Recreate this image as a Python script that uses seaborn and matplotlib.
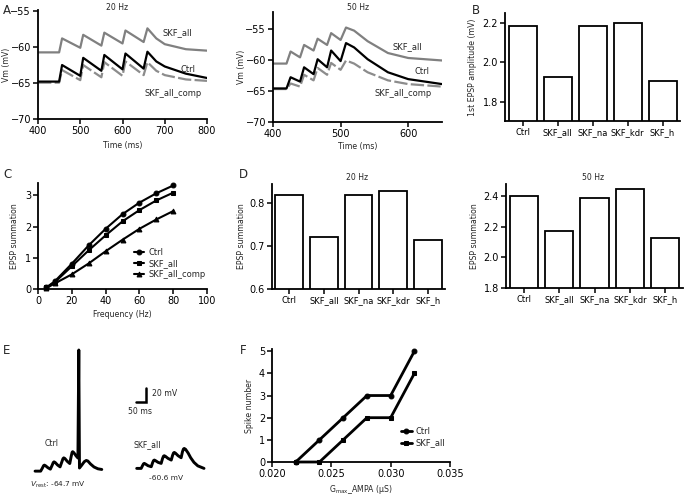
import matplotlib
matplotlib.use("Agg")
import matplotlib.pyplot as plt
import seaborn as sns

# ---------------- data ----------------
# Panel A: membrane potential traces (ms, mV)
t20 = [400, 450, 457, 500, 507, 550, 557, 600, 607, 650, 659, 680, 700, 750, 800]
skf20 = [-60.74, -60.74, -58.8, -60.1, -58.3, -59.8, -58.0, -59.5, -57.7, -59.3, -57.4, -58.8, -59.6, -60.3, -60.5]
ctrl20 = [-64.8, -64.8, -62.5, -64.0, -61.5, -63.3, -61.1, -63.1, -60.9, -63.0, -60.65, -62.0, -62.7, -63.7, -64.3]
comp20 = [-64.95, -64.95, -63.2, -64.6, -62.5, -64.2, -62.1, -64.0, -62.0, -63.9, -62.1, -63.3, -63.9, -64.5, -64.7]

t50 = [400, 420, 426, 440, 446, 460, 466, 480, 486, 500, 508, 520, 540, 570, 600, 650]
skf50 = [-60.6, -60.6, -58.66, -59.6, -57.6, -58.5, -56.6, -57.6, -55.7, -56.8, -54.8, -55.3, -57.0, -58.9, -59.7, -60.1]
ctrl50 = [-64.6, -64.6, -62.8, -63.5, -61.2, -62.3, -59.9, -61.2, -58.5, -60.2, -57.3, -58.0, -59.9, -62.0, -63.1, -63.9]
comp50 = [-64.7, -64.7, -63.8, -64.3, -62.4, -63.3, -61.3, -62.4, -60.5, -61.6, -60.1, -60.6, -62.0, -63.3, -63.9, -64.3]

# Panels B and D: bar values
bar_cats = ["Ctrl", "SKF_all", "SKF_na", "SKF_kdr", "SKF_h"]
epsp_first = [2.185, 1.925, 2.185, 2.200, 1.905]
sum_20hz = [0.820, 0.722, 0.820, 0.828, 0.715]
sum_50hz = [2.400, 2.170, 2.390, 2.445, 2.125]

# Panel C: EPSP summation vs frequency
freq = [5, 10, 20, 30, 40, 50, 60, 70, 80]
sumC_ctrl = [0.05, 0.25, 0.81, 1.40, 1.93, 2.40, 2.77, 3.07, 3.32]
sumC_skf = [0.05, 0.22, 0.73, 1.24, 1.72, 2.17, 2.53, 2.84, 3.09]
sumC_comp = [0.03, 0.18, 0.47, 0.82, 1.21, 1.58, 1.93, 2.23, 2.50]

# Panel E: example traces (ms, mV)
tE_ctrl = [26, 55, 64, 70, 74, 80, 92,
           105, 114, 120, 124, 130, 142,
           155, 164, 170, 174, 180, 192,
           205, 212, 217, 220, 226, 238,
           247, 251.5, 255, 266, 280, 290, 298, 312, 330, 350, 370]
vE_ctrl = [-64.7, -64.7, -60.0, -56.5, -55.7, -56.6, -59.5,
           -61.7, -56.0, -51.8, -50.8, -51.8, -55.5,
           -58.3, -51.0, -46.0, -44.8, -45.8, -50.0,
           -53.3, -43.0, -36.5, -35.5, -37.0, -42.0,
           -45.0, 117.0, -60.0, -56.0, -50.5, -48.7, -49.5, -54.0, -58.5, -61.2, -62.2]
tE_skf = [550, 573, 580, 585, 589, 595, 608,
          625, 632, 637, 641, 647, 660,
          676, 683, 688, 692, 698, 711,
          728, 735, 740, 744, 750, 763,
          779, 786, 791, 795, 802, 815, 828, 845, 865, 897]
vE_skf = [-60.6, -60.6, -56.5, -53.8, -53.1, -54.0, -56.5,
          -58.1, -52.0, -48.8, -48.1, -49.0, -51.5,
          -53.1, -46.0, -42.3, -41.6, -42.5, -45.5,
          -48.1, -41.0, -37.3, -36.7, -37.8, -41.5,
          -44.6, -35.5, -31.5, -30.7, -32.0, -37.5, -44.5, -51.5, -56.8, -60.6]

# Panel F: spike number vs Gmax
gmax = [0.022, 0.024, 0.026, 0.028, 0.030, 0.032]
spk_ctrl = [0, 1, 2, 3, 3, 5]
spk_skf = [0, 0, 1, 2, 2, 4]

# ---------------- style ----------------
sns.set_theme(style="ticks")
plt.rcParams["font.family"] = ["DejaVu Sans"]
plt.rcParams["axes.linewidth"] = 1.3

W, H = 685, 496
fig = plt.figure(figsize=(W / 100, H / 100), dpi=100)

LAB = 5.6   # axis-label font size
ANN = 6.0   # annotation font size


def add_ax(l, t, r, b):
    return fig.add_axes([l / W, 1 - b / H, (r - l) / W, (b - t) / H])


def ftext(x, y, s, **kw):
    kw.setdefault("fontsize", ANN)
    kw.setdefault("ha", "center")
    kw.setdefault("va", "center")
    fig.text(x / W, 1 - y / H, s, **kw)


def style(ax):
    sns.despine(ax=ax)
    for s in ["left", "bottom"]:
        ax.spines[s].set_linewidth(1.3)
        ax.spines[s].set_color("black")
    ax.tick_params(width=1.1, length=3.5, labelsize=7, pad=1.5, colors="black")
    ax.set_facecolor("white")


def labels(ax, xlabel, ylabel, ylab_x_px, xlab_top_px=None):
    """Place axis labels at pixel positions of the reference."""
    pos = ax.get_position()
    l_px = pos.x0 * W
    w_px = pos.width * W
    b_px = (1 - pos.y0) * H
    h_px = pos.height * H
    if ylabel:
        ax.set_ylabel(ylabel, fontsize=LAB)
        ax.yaxis.set_label_coords((ylab_x_px + 4 - l_px) / w_px, 0.5)
    if xlabel:
        ax.set_xlabel(xlabel, fontsize=LAB)
        ax.xaxis.set_label_coords(0.5, -(xlab_top_px - b_px) / h_px)


GRAY = "#808080"
GRAY2 = "#8c8c8c"

# ---------------- Panel A ----------------
axA1 = add_ax(38, 10, 207, 119)
sns.lineplot(x=t20, y=skf20, ax=axA1, color=GRAY, lw=1.6, estimator=None)
sns.lineplot(x=t20, y=comp20, ax=axA1, color=GRAY2, lw=1.6, estimator=None, linestyle=(0, (6, 1.5)))
sns.lineplot(x=t20, y=ctrl20, ax=axA1, color="black", lw=1.6, estimator=None)
axA1.set_xlim(400, 800)
axA1.set_ylim(-70, -54.85)
axA1.set_xticks([400, 500, 600, 700, 800])
axA1.set_yticks([-70, -65, -60, -55])
style(axA1)
labels(axA1, "Time (ms)", "Vm (mV)", 7, 141)
ftext(117, 8, "20 Hz", fontsize=5.6)
ftext(177, 33, "SKF_all")
ftext(188, 69, "Ctrl")
ftext(173, 94, "SKF_all_comp")

axA2 = add_ax(273, 12, 442, 122)
sns.lineplot(x=t50, y=skf50, ax=axA2, color=GRAY, lw=1.6, estimator=None)
sns.lineplot(x=t50, y=comp50, ax=axA2, color=GRAY2, lw=1.6, estimator=None, linestyle=(0, (6, 1.5)))
sns.lineplot(x=t50, y=ctrl50, ax=axA2, color="black", lw=1.6, estimator=None)
axA2.set_xlim(400, 650)
axA2.set_ylim(-70, -52.3)
axA2.set_xticks([400, 500, 600])
axA2.set_yticks([-70, -65, -60, -55])
style(axA2)
labels(axA2, "Time (ms)", "Vm (mV)", 242, 142)
ftext(358, 8, "50 Hz", fontsize=5.6)
ftext(407, 47, "SKF_all")
ftext(422, 72, "Ctrl")
ftext(403, 94, "SKF_all_comp")


def bars(ax, vals, ylim, yticks):
    sns.barplot(x=bar_cats, y=vals, ax=ax, color="white", edgecolor="black",
                linewidth=1.3, width=0.8, saturation=1)
    ax.set_xlim(-0.5, 4.5)
    ax.set_ylim(*ylim)
    ax.set_yticks(yticks)
    ax.set_yticklabels([f"{v:.1f}" for v in yticks])
    style(ax)
    ax.tick_params(axis="x", labelsize=6.0)


# ---------------- Panel B ----------------
axB = add_ax(505, 13, 680, 121)
bars(axB, epsp_first, (1.704, 2.25), [1.8, 2.0, 2.2])
labels(axB, None, "1st EPSP amplitude (mV)", 473)

# ---------------- Panel C ----------------
axC = add_ax(38, 183, 207, 289)
sns.lineplot(x=freq, y=sumC_ctrl, ax=axC, color="black", lw=1.5, marker="o", markersize=3.5,
             mec="black", estimator=None, label="Ctrl")
sns.lineplot(x=freq, y=sumC_skf, ax=axC, color="black", lw=1.5, marker="s", markersize=3.5,
             mec="black", estimator=None, label="SKF_all")
sns.lineplot(x=freq, y=sumC_comp, ax=axC, color="black", lw=1.5, marker="^", markersize=3.5,
             mec="black", estimator=None, label="SKF_all_comp")
for ln in axC.lines:
    ln.set_clip_on(False)
axC.set_xlim(0, 100)
axC.set_ylim(0, 3.4)
axC.set_xticks([0, 20, 40, 60, 80, 100])
axC.set_yticks([0, 1, 2, 3])
style(axC)
labels(axC, "Frequency (Hz)", "EPSP summation", 15, 310)
axC.legend(loc="upper left", bbox_to_anchor=(134 / W, 1 - 248 / H), bbox_transform=fig.transFigure,
           frameon=False, fontsize=ANN, handlelength=1.2, handletextpad=0.5, labelspacing=0.25,
           borderpad=0, borderaxespad=0)

# ---------------- Panel D ----------------
axD1 = add_ax(272, 184, 445, 289)
bars(axD1, sum_20hz, (0.6, 0.845), [0.6, 0.7, 0.8])
labels(axD1, None, "EPSP summation", 242)
ftext(357, 177, "20 Hz", fontsize=5.6)

axD2 = add_ax(506, 184, 683, 288)
bars(axD2, sum_50hz, (1.8, 2.48), [1.8, 2.0, 2.2, 2.4])
labels(axD2, None, "EPSP summation", 475)
ftext(593, 177, "50 Hz", fontsize=5.6)

# ---------------- Panel E ----------------
axE = add_ax(30, 340, 215, 492)
sns.lineplot(x=tE_ctrl, y=vE_ctrl, ax=axE, color="black", lw=2.1, estimator=None)
sns.lineplot(x=tE_skf, y=vE_skf, ax=axE, color="black", lw=2.1, estimator=None)
# scale bar: 50 ms x 20 mV
axE.plot([546, 596, 596], [39.4, 39.4, 59.4], color="black", lw=1.8, solid_joinstyle="miter")
axE.set_xlim(0, 953.6)
axE.set_ylim(-96, 132)
axE.axis("off")
ftext(152, 393, "20 mV", ha="left", fontsize=5.6)
ftext(128, 411, "50 ms", ha="left", fontsize=5.6)
ftext(52, 443, "Ctrl", fontsize=5.6)
ftext(147, 445, "SKF_all", fontsize=5.6)
ftext(166, 478, "-60.6 mV", fontsize=5.4)
ftext(30, 485, r"$V_{\mathregular{rest}}$: -64.7 mV", ha="left", fontsize=5.4)

# ---------------- Panel F ----------------
axF = add_ax(272, 349, 450, 462)
sns.lineplot(x=gmax, y=spk_ctrl, ax=axF, color="black", lw=2.0, marker="o", markersize=3.5,
             mec="black", estimator=None, label="Ctrl")
sns.lineplot(x=gmax, y=spk_skf, ax=axF, color="black", lw=2.0, marker="s", markersize=3.5,
             mec="black", estimator=None, label="SKF_all")
for ln in axF.lines:
    ln.set_clip_on(False)
axF.set_xlim(0.020, 0.035)
axF.set_ylim(0, 5.1)
axF.set_xticks([0.020, 0.025, 0.030, 0.035])
axF.set_xticklabels(["0.020", "0.025", "0.030", "0.035"])
axF.set_yticks([0, 1, 2, 3, 4, 5])
style(axF)
labels(axF, r"G$_{\mathregular{max}}$_AMPA (µS)", "Spike number", 250, 483)
axF.legend(loc="upper left", bbox_to_anchor=(401 / W, 1 - 427 / H), bbox_transform=fig.transFigure,
           frameon=False, fontsize=ANN, handlelength=1.3, handletextpad=0.5, labelspacing=0.3,
           borderpad=0, borderaxespad=0)

# ---------------- panel letters ----------------
for lab, x, y in [("A", 7, 10), ("B", 476, 10), ("C", 7, 175), ("D", 243, 175), ("E", 7, 350), ("F", 243, 350)]:
    ftext(x, y, lab, fontsize=8.5)

fig.savefig("out.png", dpi=100, facecolor="white")
